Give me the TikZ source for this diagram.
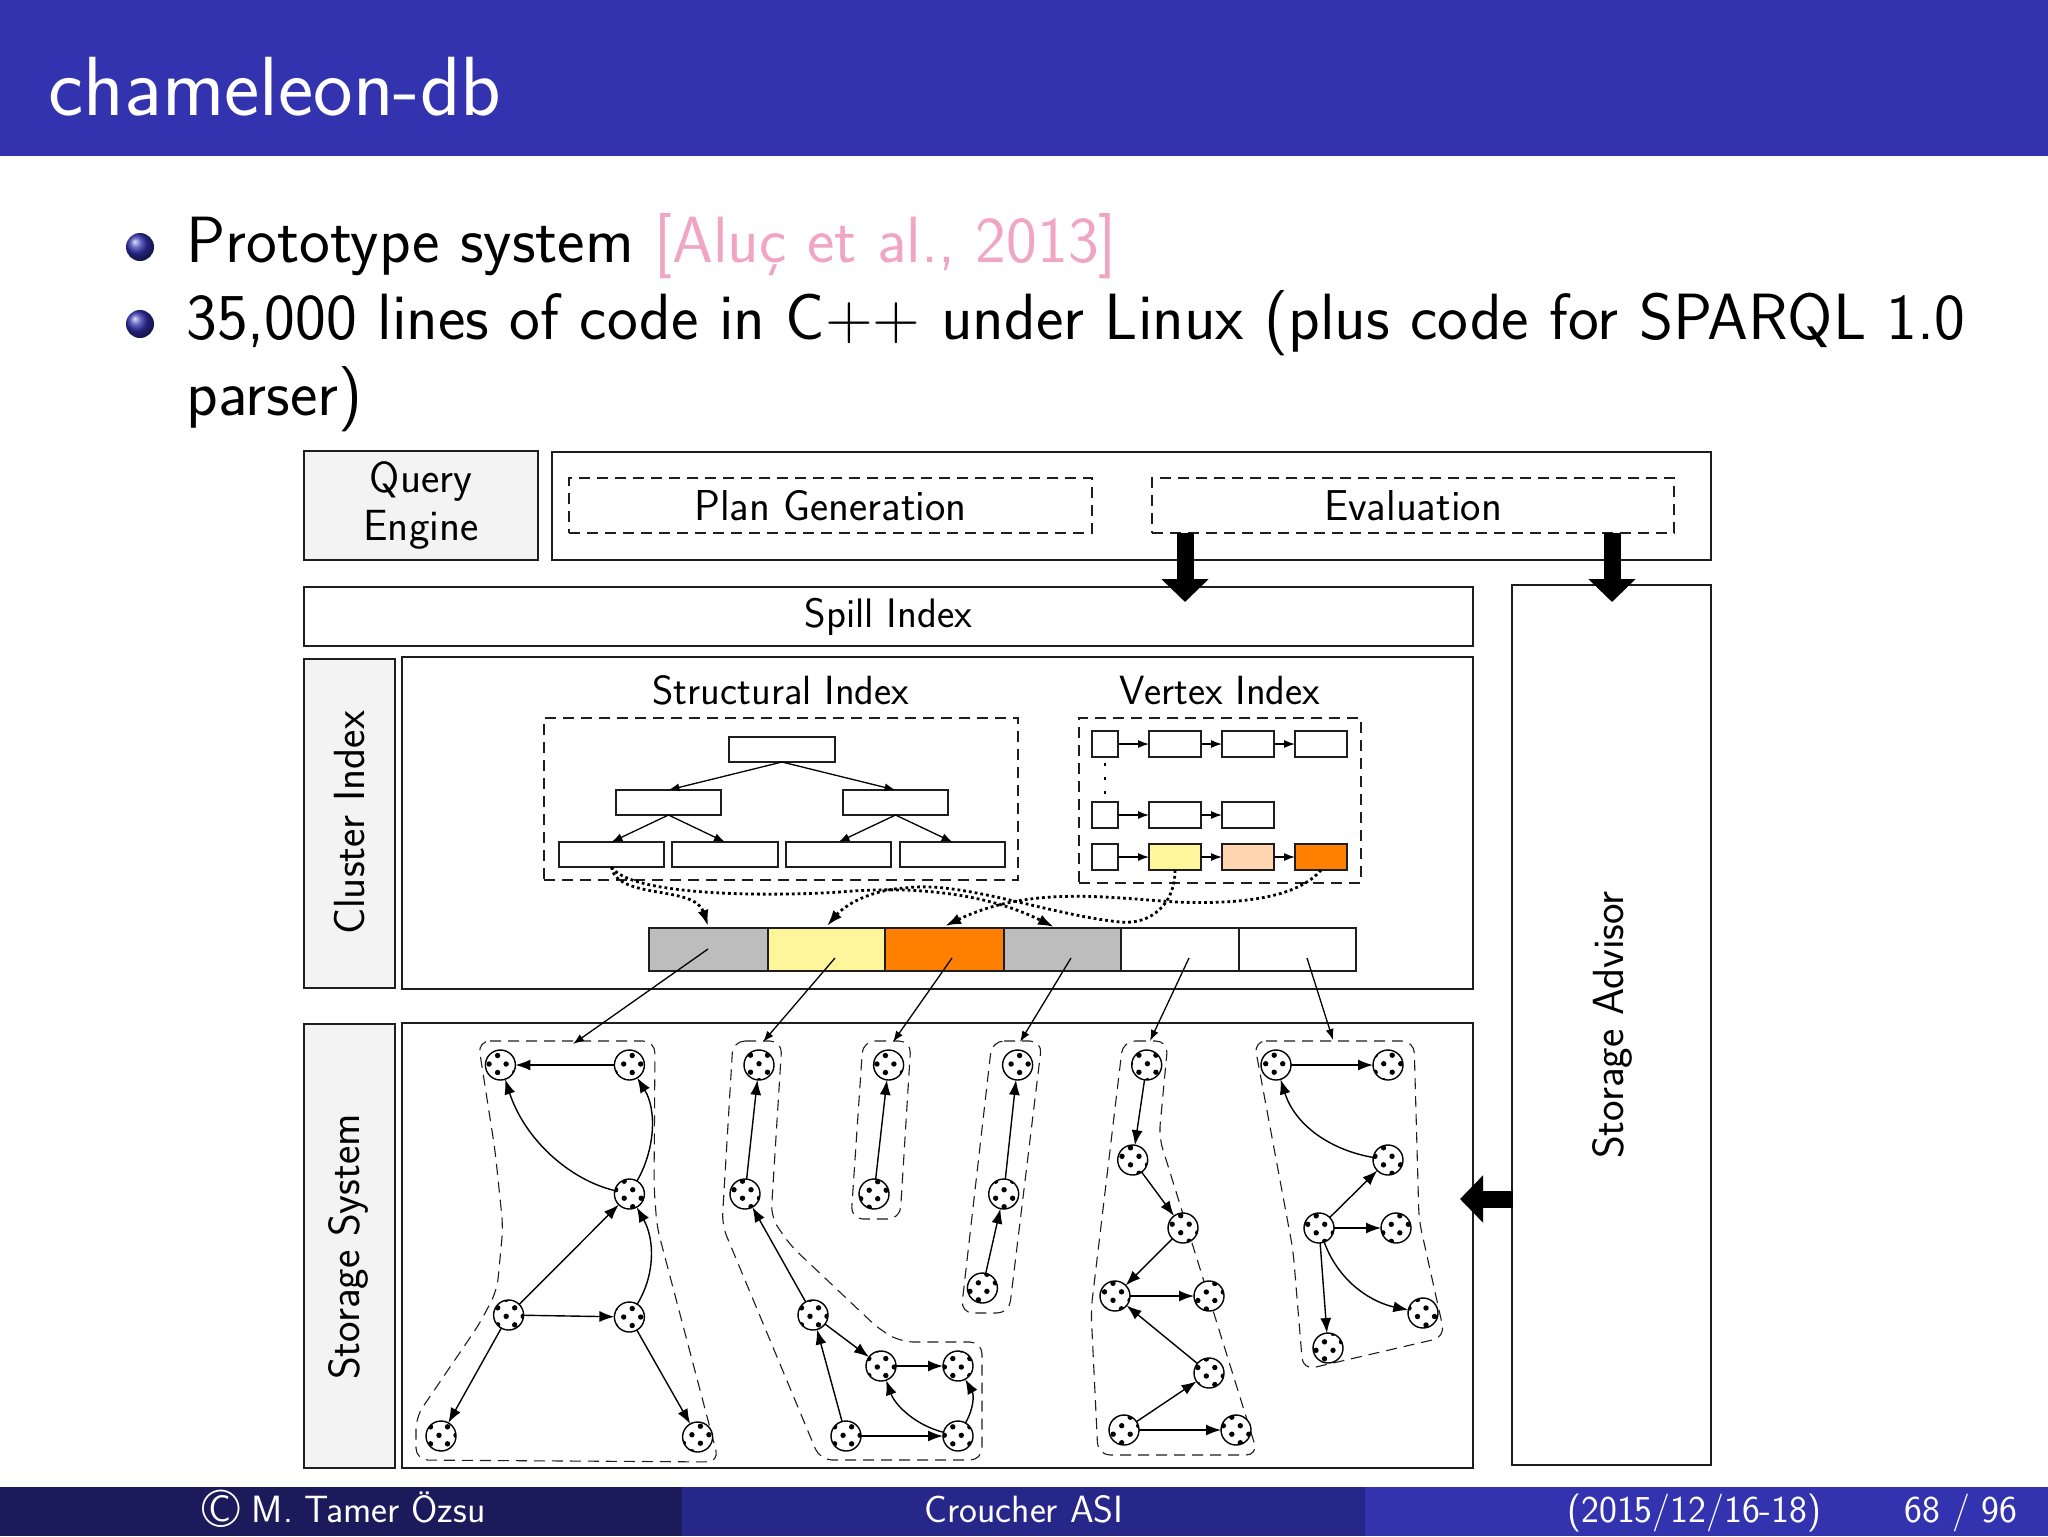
\documentclass[tikz,border=0pt]{standalone}
\usepackage{fontspec}
\usetikzlibrary{arrows.meta}
\definecolor{hdr}{RGB}{51,51,176}
\definecolor{ftA}{RGB}{27,27,92}
\definecolor{ftB}{RGB}{39,39,138}
\definecolor{ftC}{RGB}{51,51,176}
\definecolor{cite}{RGB}{240,165,195}
\definecolor{lab}{RGB}{243,243,243}
\definecolor{edge}{RGB}{30,30,30}
\definecolor{cgray}{RGB}{189,189,189}
\definecolor{cyel}{RGB}{255,245,154}
\definecolor{cpeach}{RGB}{255,214,176}
\definecolor{corg}{RGB}{255,128,0}
\newcommand{\fs}[1]{\fontsize{#1}{#1}\selectfont}
\newcommand{\bxn}[6][plainbox]{\node[#1,minimum width={(#4-#2)*0.5pt},minimum height={(#5-#3)*0.5pt}] (#6) at ({(#2+#4)/2},{(#3+#5)/2})}
\newcommand{\gn}[5]{%
  \node[gnode] (#1) at (#2,#3) {};
  \begin{scope}
    \clip (#2,#3) circle[radius=15];
    \foreach \i in {-3,...,3}{\foreach \j in {-3,...,3}{
      \fill ({#2+#4+8.5*(\i+\j)},{#3+#5+8.5*(\i-\j)}) circle[radius=2.7];}}
  \end{scope}
  \draw[line width=0.7pt] (#2,#3) circle[radius=15];
}
\tikzset{
  plainbox/.style={draw=edge,line width=0.9pt,rectangle,inner sep=0pt,outer sep=0pt,fill=white},
  labbox/.style={plainbox,fill=lab},
  dashbox/.style={plainbox,fill=none,dash pattern=on 5.5pt off 3.5pt,line width=0.55pt},
  tinybox/.style={plainbox,line width=0.65pt},
  gnode/.style={circle,inner sep=0pt,outer sep=0pt,minimum size=15pt,fill=white},
  hull/.style={draw=edge,line width=0.55pt,dash pattern=on 5.5pt off 3.5pt,rounded corners=6pt},
  gedge/.style={line width=0.7pt,-{Latex[length=7.5pt,width=5.5pt]}},
  tedge/.style={line width=0.65pt,-{Latex[length=5.5pt,width=4pt]}},
  dotedge/.style={line width=1.4pt,dash pattern=on 1.4pt off 1.5pt,-{Latex[length=8pt,width=5.5pt,sep=0pt]}},
  blockarrow/.style={line width=8.5pt,-{Triangle[length=11.5pt,width=23pt]}},
  hdrtext/.style={font=\sffamily\fs{42},text=white,anchor=base west,inner sep=0pt},
  bodytext/.style={font=\sffamily\fs{32.7},text=black,anchor=base west,inner sep=0pt},
  lbl/.style={font=\sffamily\fs{20.4},text=black,inner sep=0pt},
  rotlbl/.style={font=\sffamily\fs{21.8},text=black,inner sep=0pt,rotate=90},
  foot/.style={font=\sffamily\fs{19},text=white,anchor=base,inner sep=0pt},
}
\begin{document}
\begin{tikzpicture}[x=0.5pt,y=-0.5pt]
\useasboundingbox (0,0) rectangle (2048,1536);
\fill[white] (0,0) rectangle (2048,1536);
% header and footer
\fill[hdr] (0,0) rectangle (2048,156);
\fill[ftA] (0,1487) rectangle (682,1536);
\fill[ftB] (682,1487) rectangle (1365,1536);
\fill[ftC] (1365,1487) rectangle (2048,1536);
\node[hdrtext] (title) at (48,115) {chameleon-db};
% bullets
\shade[ball color=hdr] (140,247) circle[radius=14];
\shade[ball color=hdr] (140,324) circle[radius=14];
\node[bodytext] (t1) at (186,262) {Prototype system \textcolor{cite}{[Aluç et al., 2013]}};
\node[bodytext] (t2) at (186,339) {35,000 lines of code in C++ under Linux (plus code for SPARQL 1.0};
\node[bodytext] (t3) at (186,415) {parser)};
% footer text
\node[foot] (f1) at (344,1522) {\raisebox{-0.14em}{\fs{27}\textcopyright}\ M. Tamer Özsu};
\node[foot] (f2) at (1024,1522) {Croucher ASI};
\node[foot,anchor=base west] (f3) at (1567,1522) {(2015/12/16-18)};
\node[foot,anchor=base west] (f4) at (1904,1522) {68 / 96};
% big boxes
\bxn[labbox]{304}{451}{538}{560}{qe} [align=center,font=\sffamily\fontsize{21.8}{24}\selectfont] {Query\\Engine};
\bxn{552}{452}{1711}{560}{topb} {};
\bxn[dashbox]{569}{478}{1092}{533}{plan} [font=\sffamily\fs{21.6}] {Plan Generation};
\bxn[dashbox]{1152}{478}{1674}{533}{eval} [font=\sffamily\fs{21.6}] {Evaluation};
\bxn{304}{587}{1473}{646}{spill} [font=\sffamily\fs{20.6}] {Spill Index};
\bxn{1512}{585}{1711}{1465}{adv} {};
\node[rotlbl] (advl) at (1612,1025) {Storage Advisor};
\bxn[labbox]{304}{659}{395}{988}{cil} {};
\node[rotlbl] (cill) at (350,823) {Cluster Index};
\bxn{402}{657}{1473}{989}{cim} {};
\bxn[labbox]{304}{1024}{395}{1468}{ssl} {};
\node[rotlbl] (ssll) at (348,1247) {Storage System};
\bxn{402}{1023}{1473}{1468}{ssm} {};
% block arrows
\coordinate (ta1) at (1185,602);
\coordinate (ta2) at (1612,602);
\coordinate (ta3s) at (1513,1199);
\coordinate (ta3) at (1460,1199);
\draw[blockarrow] (1185,533) -- (ta1);
\draw[blockarrow] (1612,533) -- (ta2);
\draw[blockarrow] (ta3s) -- (ta3);
% structural index
\node[lbl] (sil) at (781,690) {Structural Index};
\node[lbl] (vil) at (1220,690) {Vertex Index};
\bxn[dashbox]{544}{718}{1018}{880}{sidash} {};
\bxn[dashbox]{1079}{718}{1361}{883}{vidash} {};
\bxn[tinybox]{729}{737}{835}{762}{tr} {};
\bxn[tinybox]{616}{790}{721}{815}{ml} {};
\bxn[tinybox]{843}{790}{948}{815}{mr} {};
\bxn[tinybox]{559}{842}{664}{867}{b1} {};
\bxn[tinybox]{672}{842}{778}{867}{b2} {};
\bxn[tinybox]{786}{842}{891}{867}{b3} {};
\bxn[tinybox]{900}{842}{1005}{867}{b4} {};
\draw[tedge] (tr.south) -- (ml.north);
\draw[tedge] (tr.south) -- (mr.north);
\draw[tedge] (ml.south) -- (b1.north);
\draw[tedge] (ml.south) -- (b2.north);
\draw[tedge] (mr.south) -- (b3.north);
\draw[tedge] (mr.south) -- (b4.north);
% vertex index
\bxn[tinybox]{1092}{731}{1118}{757}{v1a} {};
\bxn[tinybox]{1149}{731}{1201}{757}{v1b} {};
\bxn[tinybox]{1222}{731}{1274}{757}{v1c} {};
\bxn[tinybox]{1295}{731}{1347}{757}{v1d} {};
\bxn[tinybox]{1092}{802}{1118}{828}{v2a} {};
\bxn[tinybox]{1149}{802}{1201}{828}{v2b} {};
\bxn[tinybox]{1222}{802}{1274}{828}{v2c} {};
\bxn[tinybox]{1092}{844}{1118}{870}{v3a} {};
\bxn[tinybox,fill=cyel]{1149}{844}{1201}{870}{v3b} {};
\bxn[tinybox,fill=cpeach]{1222}{844}{1274}{870}{v3c} {};
\bxn[tinybox,fill=corg]{1295}{844}{1347}{870}{v3d} {};
\foreach \a/\b in {v1a/v1b,v1b/v1c,v1c/v1d,v2a/v2b,v2b/v2c,v3a/v3b,v3b/v3c,v3c/v3d}{
  \draw[tedge] (\a.east) -- (\b.west);}
\draw[line width=1.3pt,dash pattern=on 1.5pt off 5.5pt] (v1a.south) ++(0,6) -- (1105,795);
% bar
\bxn[plainbox,fill=cgray]{649}{928}{768}{971}{c1} {};
\bxn[plainbox,fill=cyel]{768}{928}{885}{971}{c2} {};
\bxn[plainbox,fill=corg]{885}{928}{1004}{971}{c3} {};
\bxn[plainbox,fill=cgray]{1004}{928}{1121}{971}{c4} {};
\bxn[plainbox]{1121}{928}{1239}{971}{c5} {};
\bxn[plainbox]{1239}{928}{1356}{971}{c6} {};
% dotted connectors
\coordinate (da) at (708,926);
\coordinate (db) at (1054,927);
\coordinate (dc) at (827,926);
\coordinate (dd) at (945,926);
\draw[dotedge] (b1.south) .. controls (617,900) and (695,885) .. (da);
\draw[dotedge] (b1.south) .. controls (630,895) and (760,897) .. (840,892) .. controls (920,885) and (990,895) .. (db);
\draw[dotedge] (v3b.south) .. controls (1175,905) and (1150,925) .. (1120,922) .. controls (1050,915) and (960,880) .. (905,888) .. controls (870,890) and (845,905) .. (dc);
\draw[dotedge] (v3d.south) .. controls (1300,895) and (1250,905) .. (1177,902) .. controls (1110,898) and (1030,885) .. (dd);
% hulls
\draw[hull] (478,1041) -- (655,1041) -- (654,1187) -- (657,1227) -- (719,1462) -- (416,1460) -- (416,1417) -- (480,1323) -- (497,1290) -- (503,1227) -- (495,1150) -- cycle;
\draw[hull] (733,1041) -- (782,1041) -- (771,1217) -- (790,1245) -- (880,1330) -- (902,1342) -- (982,1342) -- (982,1460) -- (820,1460) -- (722,1225) -- cycle;
\draw[hull] (863,1041) -- (911,1041) -- (900,1219) -- (851,1219) -- cycle;
\draw[hull] (992,1041) -- (1042,1041) -- (1009,1313) -- (961,1313) -- cycle;
\draw[hull] (1123,1041) -- (1168,1041) -- (1159,1137) -- (1258,1455) -- (1098,1455) -- (1091,1310) -- cycle;
\draw[hull] (1254,1041) -- (1414,1041) -- (1419,1220) -- (1445,1337) -- (1303,1370) -- (1293,1250) -- cycle;
% graph nodes
\gn{ga}{500.4}{1065}{5.7}{-1}
\gn{gb}{629.4}{1065}{-5.7}{-1}
\gn{gc}{629.4}{1194}{3.3}{-4.3}
\gn{gd}{508.6}{1315}{-2.4}{1.3}
\gn{ge}{629.4}{1317}{-5.7}{0}
\gn{gf}{441}{1436}{-2}{-0.7}
\gn{gg}{697.6}{1437}{-5.7}{-2.3}
\gn{ha}{759}{1065}{0}{-1.3}
\gn{hb}{745}{1194}{6}{-4.3}
\gn{hc}{813}{1315}{-3}{1.3}
\gn{hd}{881}{1366}{-3.7}{1}
\gn{he}{958}{1366}{3.3}{1}
\gn{hf}{846}{1436}{-2.9}{-0.7}
\gn{hg}{958}{1436}{3.3}{-0.7}
\gn{ia}{888.6}{1065}{5.3}{-1}
\gn{ib}{874}{1194}{3.7}{4.7}
\gn{ja}{1017.6}{1065}{-6.5}{-1}
\gn{jb}{1003.7}{1194}{0.4}{-4.3}
\gn{jc}{982.4}{1288}{4.5}{3.3}
\gn{ka}{1146.7}{1065}{0.7}{-1.3}
\gn{kb}{1132.7}{1160}{6.3}{-3.7}
\gn{kc}{1183}{1228}{-2.3}{4.7}
\gn{kd}{1115}{1296}{-2}{4.3}
\gn{ke}{1209}{1296}{-2.7}{-4}
\gn{kf}{1209}{1373}{-2.7}{3}
\gn{kg}{1124}{1430}{-2.3}{-4.3}
\gn{kh}{1236}{1430}{4.3}{-4.3}
\gn{la}{1276}{1065}{6.7}{-1.3}
\gn{lb}{1388}{1065}{-4.3}{-1.3}
\gn{lc}{1388}{1160}{4}{-3.7}
\gn{ld}{1319}{1228}{5.7}{-3.7}
\gn{le}{1396}{1228}{-4.7}{-3.7}
\gn{lf}{1423}{1313}{3}{-5}
\gn{lg}{1328}{1348}{5}{2.3}
% graph edges
\draw[gedge] (gb) -- (ga);
\draw[gedge] (gc) .. controls (570,1180) and (525,1140) .. (ga);
\draw[gedge] (gc) .. controls (655,1150) and (657,1110) .. (gb);
\draw[gedge] (gd) -- (gc);
\draw[gedge] (ge) .. controls (655,1275) and (655,1240) .. (gc);
\draw[gedge] (gd) -- (ge);
\draw[gedge] (gd) -- (gf);
\draw[gedge] (ge) -- (gg);
\draw[gedge] (hb) -- (ha);
\draw[gedge] (hc) -- (hb);
\draw[gedge] (hc) -- (hd);
\draw[gedge] (hd) -- (he);
\draw[gedge] (hf) -- (hc);
\draw[gedge] (hf) -- (hg);
\draw[gedge] (hg) .. controls (915,1425) and (895,1405) .. (hd);
\draw[gedge] (hg) .. controls (974,1408) and (974,1395) .. (he);
\draw[gedge] (ib) -- (ia);
\draw[gedge] (jb) -- (ja);
\draw[gedge] (jc) -- (jb);
\draw[gedge] (ka) -- (kb);
\draw[gedge] (kb) -- (kc);
\draw[gedge] (kc) -- (kd);
\draw[gedge] (kd) -- (ke);
\draw[gedge] (kf) -- (kd);
\draw[gedge] (kg) -- (kf);
\draw[gedge] (kg) -- (kh);
\draw[gedge] (la) -- (lb);
\draw[gedge] (lc) .. controls (1330,1150) and (1295,1125) .. (la);
\draw[gedge] (ld) -- (lc);
\draw[gedge] (ld) -- (le);
\draw[gedge] (ld) .. controls (1340,1285) and (1375,1303) .. (lf);
\draw[gedge] (ld) -- (lg);
% bar to storage arrows
\coordinate (s1) at (708,949);
\coordinate (s2) at (835,958);
\coordinate (s3) at (952,958);
\coordinate (s4) at (1071,958);
\coordinate (s5) at (1189,958);
\coordinate (s6) at (1307,958);
\coordinate (e1) at (573,1044);
\coordinate (e2) at (763,1042);
\coordinate (e3) at (893,1042);
\coordinate (e4) at (1020,1042);
\coordinate (e5) at (1150,1041);
\coordinate (e6) at (1333,1040);
\foreach \i in {1,...,6}{\draw[tedge] (s\i) -- (e\i);}
\end{tikzpicture}
\end{document}
